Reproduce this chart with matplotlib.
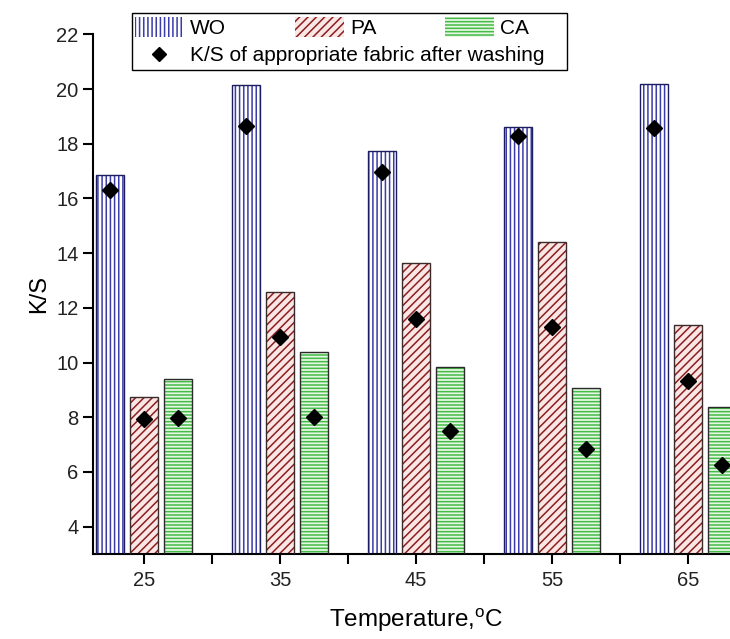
import numpy as np
import matplotlib
matplotlib.use('Agg')
import matplotlib.pyplot as plt
from matplotlib.patches import Patch, Rectangle
from matplotlib.lines import Line2D

plt.rcParams['font.family'] = ['Liberation Sans', 'DejaVu Sans']
plt.rcParams['mathtext.fontset'] = 'custom'
plt.rcParams['mathtext.rm'] = 'Liberation Sans'
plt.rcParams['hatch.linewidth'] = 1.1

# Data
temps = ['25', '35', '45', '55', '65']
wo = [16.87, 20.15, 17.75, 18.62, 20.18]
pa = [8.74, 12.58, 13.64, 14.40, 11.38]
ca = [9.38, 10.39, 9.82, 9.08, 8.37]
wo_wash = [16.29, 18.65, 16.95, 18.30, 18.57]
pa_wash = [7.95, 10.95, 11.60, 11.30, 9.32]
ca_wash = [7.98, 8.00, 7.50, 6.85, 6.24]

series = [
    ('WO', wo, wo_wash, '||||', 'white', '#3c3ca8', '#1c1c60'),
    ('PA', pa, pa_wash, '////', '#fbe6e6', '#8a1e1e', '#3a2a2a'),
    ('CA', ca, ca_wash, '-----', '#e6f6e4', '#44bb44', '#2a2a2a'),
]

x = np.arange(len(temps))
width = 0.21
offsets = [-0.25, 0.0, 0.25]

fig = plt.figure(figsize=(7.3, 6.39), dpi=100)
ax = fig.add_axes([93 / 730, 1 - 554 / 639, 4.75 * 136 / 730, (554 - 34.3) / 639])

for (name, vals, wash, hatch, face, hcol, ecol), off in zip(series, offsets):
    ax.bar(x + off, vals, width, bottom=0, color=face, edgecolor=hcol,
           hatch=hatch, linewidth=0, zorder=2)
    ax.bar(x + off, vals, width, fill=False, edgecolor=ecol, linewidth=1.0, zorder=3)
    ax.plot(x + off, wash, 'D', color='black', markersize=8.5, zorder=4)

ax.set_xlim(-0.375, 4.375)
ax.set_ylim(3, 22)
ax.set_yticks(np.arange(4, 23, 2))
ax.set_xticks(x)
ax.set_xticklabels(temps)
ax.set_xticks(x[:-1] + 0.5, minor=True)
ax.tick_params(axis='both', which='both', direction='out', length=7, width=1.5,
               labelsize=14.5, labelcolor='#222222')
ax.tick_params(axis='x', which='major', pad=5)
for s in ['top', 'right']:
    ax.spines[s].set_visible(False)
for s in ['left', 'bottom']:
    ax.spines[s].set_linewidth(1.5)

ax.set_ylabel('K/S', fontsize=17, labelpad=4)
ax.set_xlabel('Temperature,$^{\\mathrm{o}}$C', fontsize=17.5, labelpad=12)

# legend frame
fig.patches.append(Rectangle((132 / 730, 1 - 70 / 639), (567 - 132) / 730, (70 - 13) / 639,
                             transform=fig.transFigure, fill=True, facecolor='white',
                             edgecolor='black', linewidth=1.0, zorder=5))

bar_handles = [Patch(facecolor=s[4], edgecolor=s[5], hatch=s[3], linewidth=0) for s in series]
leg1 = fig.legend(bar_handles, [s[0] for s in series], ncol=3, frameon=False,
                  loc='upper left', bbox_to_anchor=(135 / 730, 1 - 17 / 639),
                  borderpad=0, borderaxespad=0, fontsize=15, handlelength=2.35,
                  handleheight=1.1, handletextpad=0.3, columnspacing=3.3)
leg1.set_zorder(6)
leg2 = fig.legend([Line2D([], [], marker='D', color='black', linestyle='none', markersize=7)],
                  ['K/S of appropriate fabric after washing'], frameon=False,
                  loc='upper left', bbox_to_anchor=(135 / 730, 1 - 46 / 639),
                  borderpad=0, borderaxespad=0, fontsize=15, handlelength=2.35,
                  handletextpad=0.3)
leg2.set_zorder(6)

fig.savefig('out.png', dpi=100)
